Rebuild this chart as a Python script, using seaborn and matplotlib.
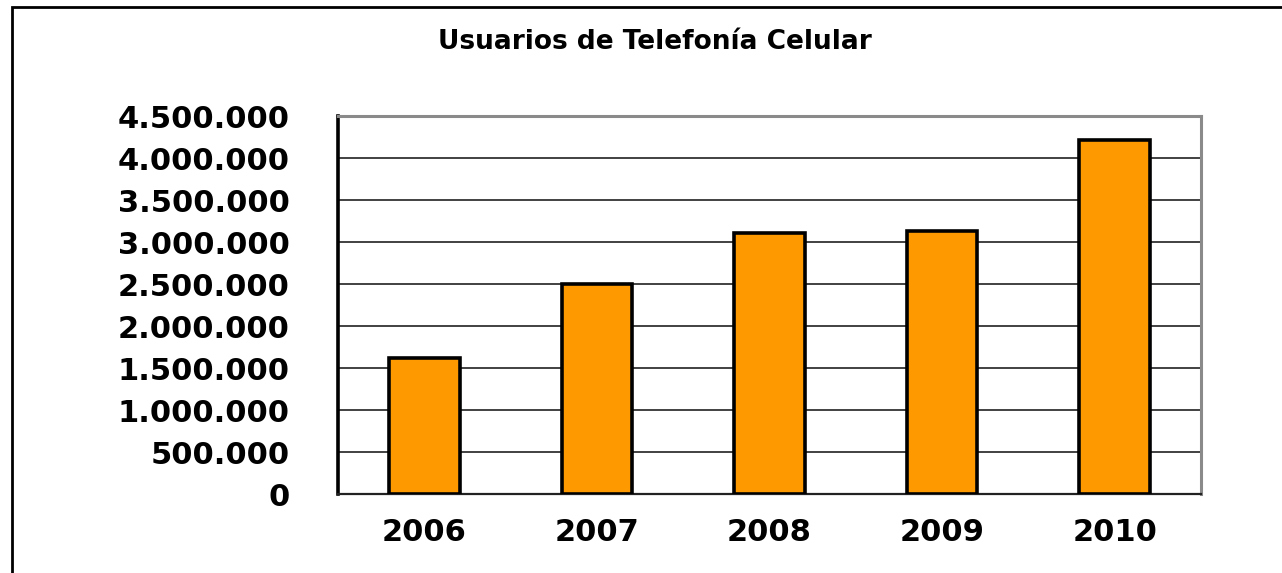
import matplotlib
matplotlib.use("Agg")
import matplotlib.pyplot as plt
import seaborn as sns
import pandas as pd
from matplotlib.ticker import FixedLocator, FuncFormatter
from matplotlib.patches import Rectangle

# Data
years = ["2006", "2007", "2008", "2009", "2010"]
users = [1620000, 2500000, 3110000, 3130000, 4215000]
y_ticks = [0, 500000, 1000000, 1500000, 2000000, 2500000, 3000000, 3500000, 4000000, 4500000]
title = "Usuarios de Telefonía Celular"

sns.set_theme(style="white")
plt.rcParams['font.family'] = ['DejaVu Sans']

W, H = 1282, 573
fig = plt.figure(figsize=(W / 100, H / 100), dpi=100)
fig.patch.set_facecolor("white")
ax = fig.add_axes([338 / W, 1 - 494 / H, (1201 - 338) / W, (494 - 116) / H])

df = pd.DataFrame({"year": years, "users": users})
sns.barplot(data=df, x="year", y="users", color="#FF9900", saturation=1,
            width=0.41, edgecolor="black", linewidth=2.6, ax=ax, zorder=3)

ax.set_ylim(0, 4500000)
ax.set_xlim(-0.5, len(years) - 0.5)
ax.yaxis.set_major_locator(FixedLocator(y_ticks))
ax.yaxis.set_major_formatter(FuncFormatter(lambda v, p: f"{int(v):,}".replace(",", ".")))
ax.yaxis.grid(True, color="#333333", linewidth=1.3, zorder=0)
ax.xaxis.grid(False)
ax.set_axisbelow(True)

ax.set_xlabel("")
ax.set_ylabel("")

for s in ["top", "right"]:
    ax.spines[s].set_color("#8a8a8a")
    ax.spines[s].set_linewidth(2.2)
ax.spines["left"].set_color("black")
ax.spines["left"].set_linewidth(2.6)
ax.spines["bottom"].set_color("#222222")
ax.spines["bottom"].set_linewidth(1.6)

ax.tick_params(axis="y", which="major", direction="out", length=16, width=1.4,
               color="#222222", pad=19, labelsize=22, labelcolor="black")
ax.set_xticks(range(len(years)))
ax.set_xticks([i - 0.5 for i in range(len(years) + 1)], minor=True)
ax.tick_params(axis="x", which="major", length=0, pad=17, labelsize=22, labelcolor="black")
ax.tick_params(axis="x", which="minor", direction="out", length=6, width=1.6, color="#222222")
for lbl in ax.get_yticklabels() + ax.get_xticklabels():
    lbl.set_fontweight("bold")

fig.text(655 / W, 1 - 42 / H, title, ha="center", va="center",
         fontsize=19, fontweight="bold", color="black")

# outer chart border (left and top visible)
fig.patches.append(Rectangle((12 / W, -0.2), 1.5, 1.2 - 7 / H, transform=fig.transFigure,
                             fill=False, edgecolor="black", linewidth=2, figure=fig))

fig.savefig("out.png", dpi=100, facecolor="white")
